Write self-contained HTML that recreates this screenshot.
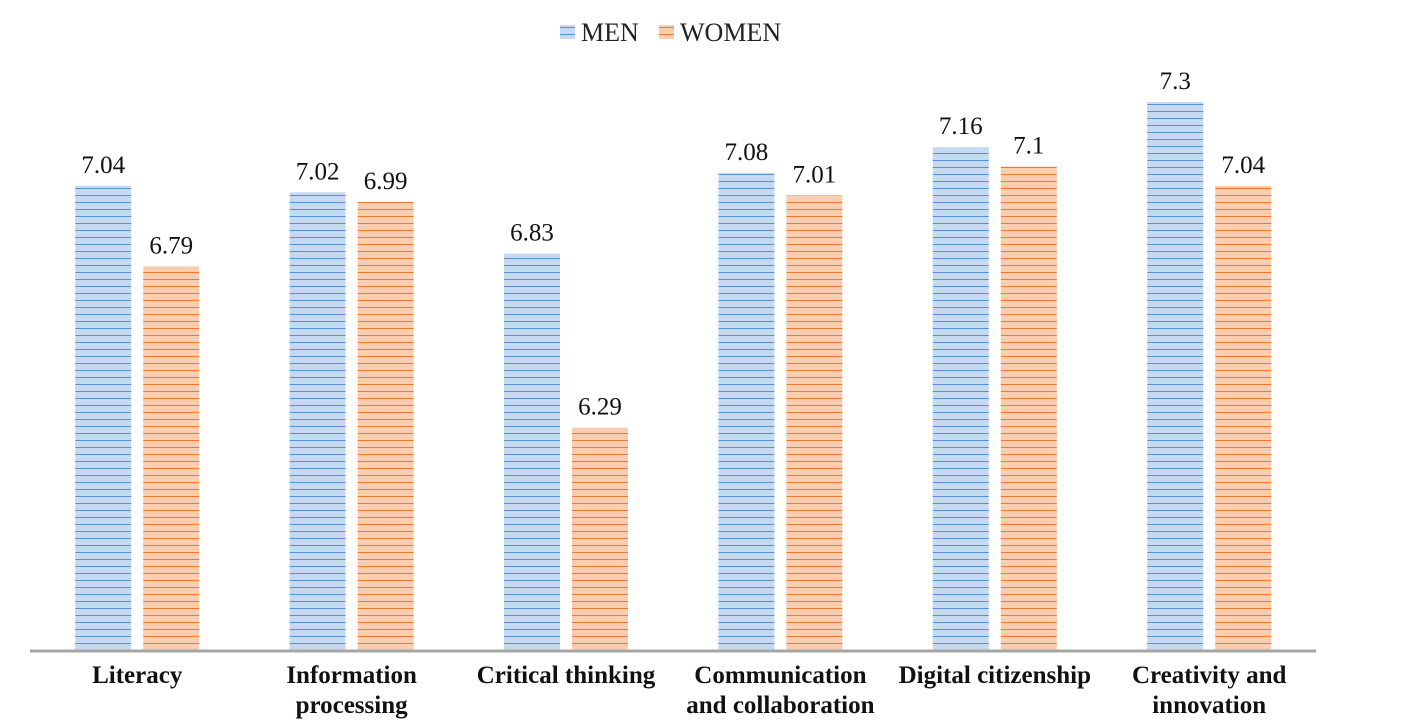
<!DOCTYPE html>
<html><head><meta charset="utf-8"><style>
body{margin:0;background:#fff}
svg{display:block}
text{font-family:"Liberation Serif","DejaVu Serif",serif}
</style></head><body>
<svg id="chart" width="1406" height="728" font-family="Liberation Serif, serif">
<defs>
<pattern id="pm" width="8" height="7" patternUnits="userSpaceOnUse"><rect width="8" height="7" fill="#c5daf0"/><rect y="6" width="8" height="1.2" fill="#5b8fd4"/></pattern>
<pattern id="pw" width="8" height="7" patternUnits="userSpaceOnUse"><rect width="8" height="7" fill="#f8cdb0"/><rect y="6" width="8" height="1.2" fill="#ec7a35"/></pattern>
</defs>
<g>
<rect x="560" y="25" width="15" height="14" fill="url(#pm)"/>
<text x="581" y="41" font-size="26" fill="#222">MEN</text>
<rect x="659" y="25" width="15" height="14" fill="url(#pw)"/>
<text x="680" y="41" font-size="26" fill="#222">WOMEN</text>
</g>
<g id="bars"></g>
<line x1="30" y1="651" x2="1316" y2="651" stroke="#a6a6a6" stroke-width="3"/>
<g id="labels"></g>
</svg>
<script>
const categories=[["Literacy"],["Information","processing"],["Critical thinking"],["Communication","and collaboration"],["Digital citizenship"],["Creativity and","innovation"]];
const men=[7.04,7.02,6.83,7.08,7.16,7.3];
const women=[6.79,6.99,6.29,7.01,7.1,7.04];
const yMin=5.6, yMax=7.3;
const NS="http://www.w3.org/2000/svg";
const x0=30,cw=214.4,base=650,yTop=102;
const y=v=>base-(v-yMin)/(yMax-yMin)*(base-yTop);
const bars=document.getElementById('bars'),labels=document.getElementById('labels');
function mk(tag,attrs,parent){const e=document.createElementNS(NS,tag);for(const k in attrs)e.setAttribute(k,attrs[k]);parent.appendChild(e);return e;}
categories.forEach((c,i)=>{
  const cx=x0+cw*(i+0.5);
  [[men,'pm','men',cx-62],[women,'pw','women',cx+6]].forEach(([arr,p,n,bx])=>{
    const v=arr[i],yt=y(v);
    const r=mk('rect',{x:bx,y:yt,width:56,height:base-yt,fill:'url(#'+p+')'},bars);
    
    
    const t=mk('text',{x:bx+28,y:yt-13,'text-anchor':'middle','font-size':25,fill:'#111'},bars);
    t.textContent=String(v);
    
    
  });
  c.forEach((line,j)=>{
    const t=mk('text',{x:cx,y:683+j*30,'text-anchor':'middle','font-size':25,'font-weight':'bold',fill:'#111'},labels);
    t.textContent=line;
    
    
  });
});
</script>
</body></html>
